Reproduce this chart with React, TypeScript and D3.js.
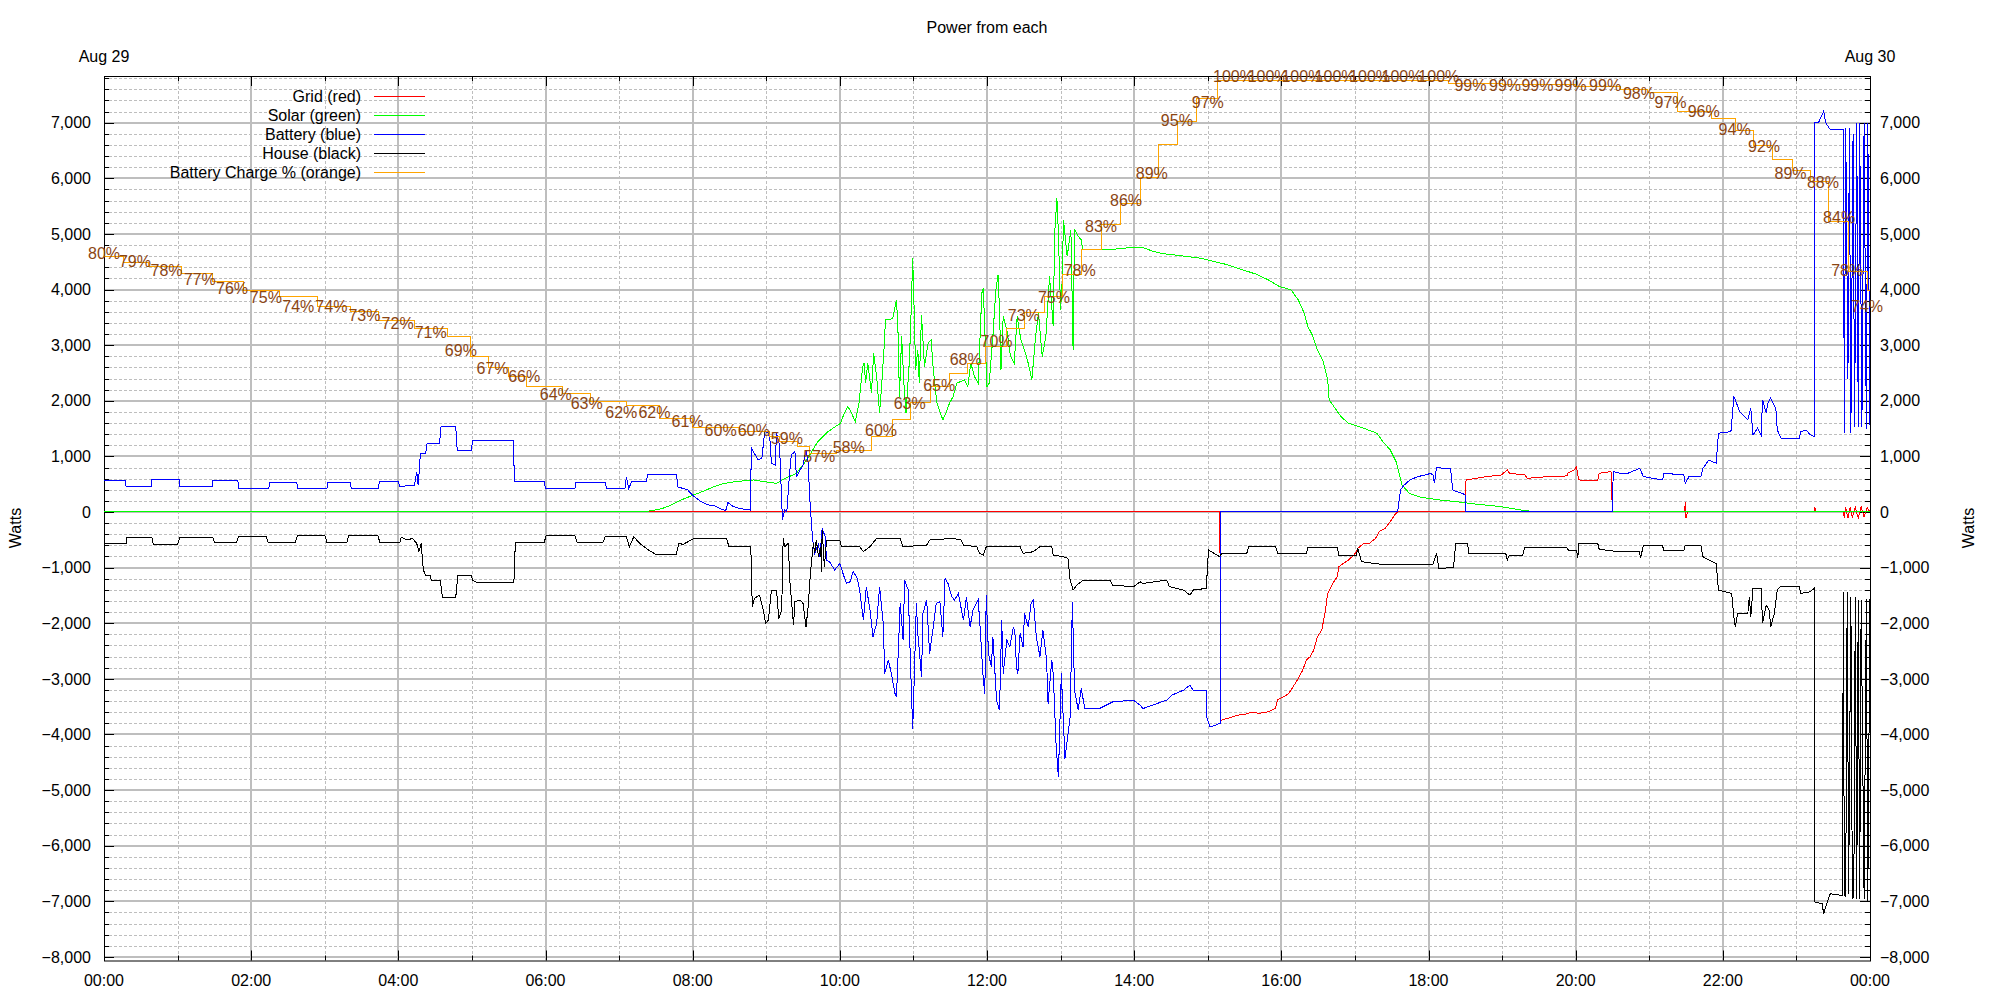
import React, { useRef, useEffect } from 'react';
import * as d3 from 'd3';

type Pt = [number, number];

// time in hours since midnight, power in watts
const gridPower: Pt[] = [
  [0, 0], [15.16, 0], [15.17, -1100], [15.18, -3744], [15.3, -3700], [15.4, -3654], [15.5, -3640], [15.6, -3600],
  [15.7, -3620], [15.82, -3594], [15.92, -3534], [15.95, -3372], [16.04, -3320], [16.1, -3264], [16.16, -3144],
  [16.23, -2994], [16.29, -2844], [16.34, -2664], [16.39, -2604], [16.44, -2484], [16.49, -2244], [16.55, -2124],
  [16.6, -1764], [16.63, -1464], [16.7, -1284], [16.76, -1164], [16.78, -984], [16.91, -864], [16.99, -774],
  [17.04, -654], [17.12, -564], [17.2, -560], [17.28, -474], [17.33, -354], [17.41, -294], [17.48, -174],
  [17.54, -54], [17.58, 0], [18.5, 0], [18.51, 576], [18.79, 636], [18.99, 666], [19.07, 756], [19.1, 696],
  [19.31, 666], [19.34, 606], [19.62, 636], [19.88, 648], [19.9, 708], [19.98, 756], [20.01, 816], [20.04, 576],
  [20.3, 564], [20.32, 696], [20.48, 726], [20.5, 0], [21.48, 0], [21.49, 186], [21.5, -114], [21.52, 0],
  [23.24, 0], [23.25, 96], [23.26, 0], [23.64, 0], [23.65, -100], [23.67, 80], [23.7, -110], [23.73, 90],
  [23.76, -100], [23.8, 80], [23.84, -110], [23.88, 90], [23.92, -90], [23.96, 80], [24, 0],
];

const solarPower: Pt[] = [
  [0, 0], [7.34, 0], [7.5, 40], [7.58, 60], [7.7, 120], [7.83, 210], [8.0, 300], [8.14, 370], [8.28, 450],
  [8.42, 510], [8.58, 546], [8.83, 576], [8.97, 546], [9.14, 516], [9.26, 606], [9.41, 696], [9.55, 936],
  [9.7, 1266], [9.84, 1446], [9.94, 1536], [10.01, 1596], [10.06, 1776], [10.11, 1896], [10.16, 1776],
  [10.21, 1626], [10.26, 1956], [10.31, 2616], [10.33, 2676], [10.35, 2316], [10.38, 2676], [10.43, 2136],
  [10.46, 2856], [10.5, 2436], [10.54, 1776], [10.57, 2316], [10.6, 2916], [10.62, 3456], [10.67, 3456],
  [10.72, 3486], [10.77, 3816], [10.79, 3276], [10.81, 2076], [10.84, 3156], [10.87, 2316], [10.9, 1776],
  [10.94, 2616], [10.96, 3216], [10.99, 4566], [11.01, 3636], [11.03, 2556], [11.06, 2916], [11.08, 2316],
  [11.11, 3546], [11.15, 2616], [11.2, 3036], [11.24, 3096], [11.27, 2556], [11.32, 1956], [11.4, 1656],
  [11.44, 1776], [11.49, 1956], [11.54, 2076], [11.59, 2316], [11.69, 2376], [11.74, 2256], [11.78, 2676],
  [11.83, 2436], [11.88, 2316], [11.93, 3936], [11.95, 4026], [11.98, 2916], [12.0, 2256], [12.03, 2316],
  [12.08, 3156], [12.12, 3996], [12.15, 4266], [12.17, 3636], [12.19, 2556], [12.22, 3516], [12.27, 3276],
  [12.32, 2796], [12.37, 2676], [12.41, 3516], [12.46, 3096], [12.49, 2976], [12.51, 2916], [12.56, 2676],
  [12.61, 2376], [12.66, 3156], [12.7, 3576], [12.75, 2796], [12.8, 3156], [12.85, 4236], [12.9, 3336],
  [12.92, 5016], [12.95, 5646], [12.97, 5016], [13.0, 3636], [13.02, 4116], [13.04, 5256], [13.09, 4596],
  [13.14, 5076], [13.17, 2916], [13.19, 5076], [13.24, 4956], [13.28, 4896], [13.3, 4716], [13.53, 4728],
  [13.67, 4716], [13.87, 4746], [14.11, 4758], [14.26, 4686], [14.4, 4644], [14.64, 4608], [14.89, 4566],
  [15.08, 4506], [15.27, 4446], [15.47, 4356], [15.66, 4276], [15.82, 4176], [15.97, 4056], [16.13, 3996],
  [16.23, 3816], [16.31, 3576], [16.36, 3336], [16.42, 3186], [16.49, 2916], [16.57, 2706], [16.63, 2376],
  [16.65, 2016], [16.73, 1866], [16.81, 1716], [16.91, 1596], [17.12, 1506], [17.3, 1416], [17.38, 1266],
  [17.48, 1116], [17.56, 906], [17.59, 756], [17.64, 486], [17.74, 336], [17.9, 264], [18.16, 216],
  [18.37, 186], [18.63, 144], [18.99, 96], [19.26, 36], [19.46, 0], [24, 0],
];

const batteryPower: Pt[] = [
  [0, 570], [0.29, 570], [0.3, 450], [0.64, 450], [0.65, 583], [1.02, 583], [1.03, 450], [1.47, 450],
  [1.48, 560], [1.82, 560], [1.83, 420], [2.24, 420], [2.25, 530], [2.62, 530], [2.63, 420], [3.03, 420],
  [3.04, 530], [3.35, 530], [3.36, 420], [3.73, 420], [3.74, 540], [4.0, 540], [4.02, 460], [4.22, 480],
  [4.25, 720], [4.27, 480], [4.3, 1050], [4.37, 1050], [4.39, 1230], [4.56, 1230], [4.58, 1530], [4.78, 1530],
  [4.8, 1110], [4.99, 1110], [5.01, 1280], [5.56, 1280], [5.58, 546], [5.98, 546], [6.0, 420], [6.4, 420],
  [6.41, 530], [6.81, 530], [6.83, 420], [7.08, 420], [7.1, 630], [7.13, 420], [7.17, 540], [7.37, 540],
  [7.39, 680], [7.78, 680], [7.8, 450], [7.93, 400], [8.0, 300], [8.1, 200], [8.2, 130], [8.3, 110],
  [8.4, 40], [8.45, 30], [8.48, 170], [8.55, 100], [8.65, 60], [8.78, 36], [8.8, 1146], [8.89, 936],
  [8.94, 966], [8.98, 1446], [9.03, 1416], [9.05, 1296], [9.07, 876], [9.12, 846], [9.14, 1416], [9.18, 1206],
  [9.22, -144], [9.25, 36], [9.28, 6], [9.31, 576], [9.34, 1026], [9.39, 1086], [9.41, 636], [9.46, 756],
  [9.5, 846], [9.54, 1116], [9.57, 876], [9.59, 276], [9.63, -504], [9.66, -744], [9.71, -564], [9.73, -804],
  [9.76, -294], [9.8, -444], [9.82, -864], [9.86, -894], [9.93, -1044], [10.0, -924], [10.05, -1134],
  [10.09, -1284], [10.14, -1254], [10.18, -1074], [10.23, -1164], [10.27, -1404], [10.32, -1944],
  [10.36, -1344], [10.41, -1764], [10.45, -2244], [10.5, -2004], [10.54, -1344], [10.59, -2004],
  [10.61, -2904], [10.66, -2664], [10.7, -2904], [10.75, -3264], [10.77, -3324], [10.82, -1644],
  [10.86, -2304], [10.88, -1224], [10.93, -1404], [10.95, -2304], [10.99, -3894], [11.0, -3504],
  [11.04, -1644], [11.06, -2184], [11.11, -2964], [11.13, -1824], [11.18, -1584], [11.22, -2544],
  [11.27, -2064], [11.31, -1644], [11.36, -1614], [11.4, -2244], [11.43, -1194], [11.47, -1284],
  [11.52, -1524], [11.56, -1584], [11.61, -1464], [11.68, -1944], [11.72, -1524], [11.77, -2064],
  [11.81, -1764], [11.88, -1584], [11.9, -1944], [11.95, -3024], [11.97, -3264], [11.99, -1494],
  [12.02, -2544], [12.06, -2784], [12.08, -2244], [12.13, -3384], [12.17, -3564], [12.2, -1944],
  [12.22, -2904], [12.27, -2304], [12.31, -2424], [12.36, -2064], [12.38, -2184], [12.4, -2784],
  [12.42, -2904], [12.45, -2184], [12.49, -2424], [12.51, -1824], [12.56, -2064], [12.6, -1644],
  [12.63, -1584], [12.67, -2244], [12.72, -2604], [12.76, -2124], [12.81, -2664], [12.83, -3444],
  [12.88, -2664], [12.9, -2904], [12.94, -4224], [12.97, -4764], [13.01, -2904], [13.06, -4434],
  [13.13, -3684], [13.16, -1614], [13.19, -3204], [13.24, -3564], [13.28, -3174], [13.33, -3534],
  [13.53, -3534], [13.71, -3414], [13.99, -3384], [14.08, -3474], [14.12, -3534], [14.44, -3384],
  [14.51, -3294], [14.67, -3204], [14.76, -3114], [14.8, -3204], [14.98, -3204], [14.99, -3714],
  [15.03, -3864], [15.1, -3834], [15.17, -3800], [15.18, 0], [17.58, 0], [17.62, 396], [17.67, 486],
  [17.75, 576], [17.85, 636], [17.96, 666], [18.03, 696], [18.06, 666], [18.08, 516], [18.11, 804],
  [18.2, 786], [18.3, 776], [18.33, 396], [18.38, 366], [18.46, 336], [18.5, 300], [18.51, 0], [20.5, 0],
  [20.51, 726], [20.61, 696], [20.71, 696], [20.87, 786], [20.92, 636], [21.18, 576], [21.2, 696],
  [21.47, 666], [21.49, 516], [21.54, 636], [21.7, 636], [21.73, 786], [21.81, 936], [21.91, 876],
  [21.94, 1416], [22.11, 1446], [22.15, 2076], [22.16, 2046], [22.23, 1806], [22.34, 1656], [22.38, 1866],
  [22.41, 1386], [22.47, 1506], [22.52, 1386], [22.54, 2016], [22.59, 1776], [22.61, 1956], [22.65, 2046],
  [22.72, 1866], [22.74, 1476], [22.79, 1326], [23.04, 1326], [23.06, 1446], [23.13, 1476], [23.19, 1386],
  [23.24, 1356], [23.25, 6996], [23.3, 7000], [23.37, 7206], [23.4, 6996], [23.46, 6876], [23.64, 6876],
  [23.65, 1416], [23.67, 6900], [23.7, 2400], [23.72, 6900], [23.74, 1416], [23.77, 6800], [23.79, 1536],
  [23.82, 6996], [23.84, 1536], [23.86, 6996], [23.89, 1536], [23.92, 6996], [23.95, 1500], [23.97, 6996],
  [24, 1560],
];

const housePower: Pt[] = [
  [0, -564], [0.3, -564], [0.31, -456], [0.65, -456], [0.67, -576], [1.0, -576], [1.03, -456], [1.48, -456],
  [1.5, -552], [1.8, -552], [1.83, -432], [2.2, -432], [2.23, -546], [2.6, -546], [2.63, -414], [3.0, -414],
  [3.03, -546], [3.3, -546], [3.33, -414], [3.72, -414], [3.75, -552], [4.02, -552], [4.04, -456],
  [4.13, -504], [4.19, -474], [4.25, -564], [4.28, -714], [4.31, -564], [4.34, -1044], [4.37, -1134],
  [4.43, -1134], [4.45, -1224], [4.57, -1224], [4.6, -1536], [4.78, -1536], [4.81, -1134], [4.99, -1134],
  [5.01, -1224], [5.07, -1272], [5.57, -1272], [5.59, -552], [5.98, -552], [6.01, -426], [6.4, -426],
  [6.43, -552], [6.78, -552], [6.81, -444], [7.1, -444], [7.14, -624], [7.2, -444], [7.28, -564],
  [7.4, -684], [7.49, -756], [7.78, -756], [7.81, -564], [7.87, -582], [8.02, -474], [8.46, -474],
  [8.49, -612], [8.79, -612], [8.81, -1704], [8.84, -1554], [8.91, -1494], [8.96, -1764], [8.99, -2004],
  [9.03, -1944], [9.07, -1404], [9.14, -1404], [9.17, -1914], [9.21, -1764], [9.23, -474], [9.25, -624],
  [9.3, -564], [9.32, -1224], [9.37, -2034], [9.39, -1614], [9.46, -1584], [9.5, -1644], [9.54, -2064],
  [9.57, -1704], [9.6, -1104], [9.64, -564], [9.66, -744], [9.68, -504], [9.71, -804], [9.74, -624],
  [9.75, -1074], [9.76, -324], [9.79, -984], [9.82, -504], [10.0, -504], [10.02, -624], [10.27, -624],
  [10.32, -714], [10.41, -624], [10.5, -474], [10.82, -480], [10.86, -624], [11.18, -594], [11.22, -504],
  [11.54, -474], [11.65, -504], [11.68, -594], [11.86, -624], [11.9, -744], [11.95, -774], [11.99, -624],
  [12.45, -624], [12.49, -744], [12.63, -714], [12.72, -624], [12.88, -624], [12.9, -774], [13.04, -804],
  [13.1, -834], [13.13, -1224], [13.17, -1404], [13.22, -1314], [13.31, -1224], [13.67, -1224],
  [13.71, -1314], [13.99, -1344], [14.08, -1254], [14.12, -1284], [14.44, -1224], [14.48, -1344],
  [14.67, -1404], [14.76, -1494], [14.8, -1404], [14.98, -1374], [15.01, -684], [15.16, -804],
  [15.19, -744], [15.53, -744], [15.56, -612], [15.92, -612], [15.95, -744], [16.34, -744], [16.36, -642],
  [16.76, -642], [16.78, -774], [17.02, -774], [17.04, -654], [17.09, -894], [17.33, -936], [18.06, -936],
  [18.08, -864], [18.11, -744], [18.14, -1014], [18.34, -1000], [18.37, -564], [18.53, -564], [18.55, -744],
  [19.05, -744], [19.07, -864], [19.1, -774], [19.28, -774], [19.31, -636], [19.88, -636], [19.9, -684],
  [20.01, -684], [20.03, -824], [20.04, -564], [20.3, -564], [20.32, -672], [20.5, -700], [20.53, -714],
  [20.87, -714], [20.88, -834], [20.92, -606], [21.18, -606], [21.2, -696], [21.47, -696], [21.49, -594],
  [21.7, -594], [21.73, -804], [21.81, -864], [21.91, -924], [21.94, -1404], [22.12, -1464], [22.15, -1884],
  [22.17, -2064], [22.2, -1824], [22.34, -1824], [22.36, -1524], [22.38, -1884], [22.41, -1374],
  [22.52, -1374], [22.54, -2004], [22.59, -1674], [22.63, -1764], [22.65, -2064], [22.7, -1824],
  [22.74, -1404], [22.79, -1332], [23.04, -1344], [23.06, -1464], [23.19, -1434], [23.24, -1374],
  [23.25, -7014], [23.35, -7044], [23.37, -7224], [23.42, -7014], [23.46, -6864], [23.62, -6894],
  [23.64, -1434], [23.65, -6864], [23.67, -6924], [23.69, -1434], [23.71, -6864], [23.74, -1524],
  [23.76, -6954], [23.78, -6924], [23.8, -1524], [23.82, -6954], [23.84, -1584], [23.86, -6954],
  [23.88, -1584], [23.92, -6954], [23.95, -1560], [23.97, -6990], [24, -1560],
];

// battery charge, percent (step starts)
const chargeLevel: Pt[] = [
  [0, 79.6], [0.26, 78.9], [0.6, 78.5], [1.06, 77.7], [1.47, 76.8], [1.89, 75.8], [2.38, 75.1], [2.9, 73.9],
  [3.35, 73.4], [3.73, 72.4], [4.22, 71.5], [4.67, 70.5], [4.98, 68.3], [5.22, 67.1], [5.5, 66.0],
  [5.74, 64.9], [6.23, 64.1], [6.61, 63.2], [7.1, 62.8], [7.55, 61.3], [8.0, 60.3], [8.63, 59.8],
  [9.04, 59.2], [9.18, 58.7], [9.42, 58.1], [9.59, 57.3], [9.95, 57.7], [10.43, 59.2], [10.72, 61.2],
  [10.96, 63.1], [11.23, 64.9], [11.49, 66.4], [11.74, 67.5], [11.98, 69.4], [12.27, 71.5], [12.51, 73.3],
  [12.78, 75.1], [13.02, 77.6], [13.29, 80.4], [13.55, 83.2], [13.82, 85.6], [14.09, 88.5], [14.33, 92.2],
  [14.59, 94.9], [14.85, 97.4], [15.13, 99.5], [18.27, 99.2], [19.0, 99.0], [20.0, 98.8], [20.61, 98.5],
  [20.97, 98.1], [21.39, 96.0], [21.85, 95.2], [22.17, 93.8], [22.41, 92.1], [22.68, 90.6], [22.94, 89.3],
  [23.19, 88.1], [23.44, 83.6], [23.71, 77.9], [23.96, 75.8], [24, 75.8],
];

const chargeLabels: Pt[] = [
  [0, 80], [0.42, 79], [0.85, 78], [1.3, 77], [1.74, 76], [2.2, 75], [2.64, 74], [3.09, 74], [3.54, 73],
  [3.99, 72], [4.44, 71], [4.85, 69], [5.28, 67], [5.71, 66], [6.14, 64], [6.56, 63], [7.03, 62], [7.48, 62],
  [7.93, 61], [8.38, 60], [8.83, 60], [9.28, 59], [9.72, 57], [10.12, 58], [10.56, 60], [10.95, 63],
  [11.35, 65], [11.71, 68], [12.13, 70], [12.5, 73], [12.91, 75], [13.26, 78], [13.55, 83], [13.89, 86],
  [14.24, 89], [14.58, 95], [15.0, 97], [15.35, 100], [15.82, 100], [16.28, 100], [16.73, 100], [17.2, 100],
  [17.64, 100], [18.14, 100], [18.57, 99], [19.04, 99], [19.48, 99], [19.93, 99], [20.4, 99], [20.86, 98],
  [21.29, 97], [21.74, 96], [22.16, 94], [22.56, 92], [22.92, 89], [23.36, 88], [23.58, 84], [23.69, 78],
  [23.96, 74],
];

const hourLabels = ['00:00', '02:00', '04:00', '06:00', '08:00', '10:00', '12:00', '14:00', '16:00', '18:00', '20:00', '22:00', '00:00'];
const dayLabels = ['Aug 29', 'Aug 30'];
const seriesNames = ['Grid (red)', 'Solar (green)', 'Battery (blue)', 'House (black)', 'Battery Charge % (orange)'];
const seriesColors = ['#ff0000', '#00ff00', '#0000ff', '#000000', '#ffa500'];

const FONT = 'Liberation Sans, Arial, Helvetica, sans-serif';

const App: React.FC = () => {
  const svgRef = useRef<SVGSVGElement | null>(null);

  useEffect(() => {
    const svg = d3.select(svgRef.current);
    svg.selectAll('*').remove();

    const left = 104, right = 1870, top = 76, bottom = 960.5;

    const x = d3.scaleLinear().domain([0, 24]).range([left, right]);
    const y = d3.scaleLinear().domain([-8065, 7840]).range([bottom, top]);
    const y2 = d3.scaleLinear().domain([0, 100]).range([bottom, top]);

    svg.append('rect').attr('width', 2000).attr('height', 1000).attr('fill', '#fff');

    const grid = svg.append('g');
    const minorY = d3.range(-8000, 7801, 200).filter(v => v % 1000 !== 0);
    const majorY = d3.range(-8000, 7001, 1000);
    const minorX = d3.range(1, 24, 2);
    const majorX = d3.range(2, 23, 2);

    grid.selectAll('line.my').data(minorY).enter().append('line')
      .attr('x1', left).attr('x2', right)
      .attr('y1', d => Math.round(y(d)) + 0.5).attr('y2', d => Math.round(y(d)) + 0.5)
      .attr('stroke', '#bebebe').attr('stroke-width', 1).attr('stroke-dasharray', '3,2');
    grid.selectAll('line.mx').data(minorX).enter().append('line')
      .attr('y1', top).attr('y2', bottom)
      .attr('x1', d => Math.round(x(d)) + 0.5).attr('x2', d => Math.round(x(d)) + 0.5)
      .attr('stroke', '#bebebe').attr('stroke-width', 1).attr('stroke-dasharray', '3,2');
    grid.selectAll('line.My').data(majorY).enter().append('line')
      .attr('x1', left).attr('x2', right)
      .attr('y1', d => Math.round(y(d))).attr('y2', d => Math.round(y(d)))
      .attr('stroke', '#bebebe').attr('stroke-width', 2);
    grid.selectAll('line.Mx').data(majorX).enter().append('line')
      .attr('y1', top).attr('y2', bottom)
      .attr('x1', d => Math.round(x(d))).attr('x2', d => Math.round(x(d)))
      .attr('stroke', '#bebebe').attr('stroke-width', 2);

    // border + ticks
    const axes = svg.append('g').attr('stroke', '#000').attr('stroke-width', 1);
    axes.append('rect')
      .attr('x', left + 0.5).attr('y', top + 0.5)
      .attr('width', right - left).attr('height', bottom - top)
      .attr('fill', 'none');
    const yTicks = d3.range(-8000, 7801, 200);
    yTicks.forEach(v => {
      const len = v % 1000 === 0 ? 10 : 5;
      const yy = Math.round(y(v)) + 0.5;
      axes.append('line').attr('x1', left).attr('x2', left + len).attr('y1', yy).attr('y2', yy);
      axes.append('line').attr('x1', right).attr('x2', right - len).attr('y1', yy).attr('y2', yy);
    });
    d3.range(0, 25, 1).forEach(h => {
      const len = h % 2 === 0 ? 10 : 5;
      const xx = Math.round(x(h)) + 0.5;
      axes.append('line').attr('x1', xx).attr('x2', xx).attr('y1', bottom).attr('y2', bottom - len);
      axes.append('line').attr('x1', xx).attr('x2', xx).attr('y1', top).attr('y2', top + len);
    });

    const text = svg.append('g').attr('font-family', FONT).attr('font-size', 16).attr('fill', '#000');
    const fmt = d3.format(',');
    majorY.forEach(v => {
      text.append('text').attr('x', 91).attr('y', y(v) + 5.7).attr('text-anchor', 'end').text(fmt(v));
      text.append('text').attr('x', 1880).attr('y', y(v) + 5.7).attr('text-anchor', 'start').text(fmt(v));
    });
    hourLabels.forEach((lab, i) => {
      text.append('text').attr('x', x(i * 2)).attr('y', 986).attr('text-anchor', 'middle').text(lab);
    });
    dayLabels.forEach((lab, i) => {
      text.append('text').attr('x', x(i * 24)).attr('y', 62).attr('text-anchor', 'middle').text(lab);
    });
    text.append('text').attr('x', (left + right) / 2).attr('y', 32.5).attr('text-anchor', 'middle').text('Power from each');
    [15, 1968].forEach(xx => {
      text.append('text')
        .attr('transform', `translate(${xx},528) rotate(-90)`)
        .attr('text-anchor', 'middle').attr('dy', '0.35em')
        .text('Watts');
    });

    // data (aliased 1px lines like the original png)
    const line = d3.line<Pt>().x(d => x(d[0])).y(d => y(d[1]));
    const plot = svg.append('g')
      .attr('fill', 'none').attr('stroke-width', 1)
      .attr('shape-rendering', 'crispEdges');
    [gridPower, solarPower, batteryPower, housePower].forEach((series, i) => {
      plot.append('path').attr('d', line(series)).attr('stroke', seriesColors[i]);
    });
    const stepLine = d3.line<Pt>().x(d => x(d[0])).y(d => y2(d[1])).curve(d3.curveStepAfter);
    plot.append('path').attr('d', stepLine(chargeLevel)).attr('stroke', seriesColors[4]);

    svg.append('g').attr('font-family', FONT).attr('font-size', 16).attr('fill', '#8b4513')
      .selectAll('text').data(chargeLabels).enter().append('text')
      .attr('x', d => x(d[0])).attr('y', d => y2(d[1]) + 5.7)
      .attr('text-anchor', 'middle')
      .text(d => `${d[1]}%`);

    // legend
    const legend = svg.append('g').attr('font-family', FONT).attr('font-size', 16);
    seriesNames.forEach((name, i) => {
      const ly = 96.5 + i * 19;
      legend.append('text').attr('x', 361).attr('y', ly + 5).attr('text-anchor', 'end').text(name);
      legend.append('line').attr('x1', 374).attr('x2', 425).attr('y1', ly).attr('y2', ly)
        .attr('stroke', seriesColors[i]).attr('stroke-width', 1.2);
    });

    return () => {
      svg.selectAll('*').remove();
    };
  }, []);

  return (
    <svg
      ref={svgRef}
      width={2000}
      height={1000}
      style={{ position: 'absolute', left: 0, top: 0, display: 'block' }}
    />
  );
};

export default App;
